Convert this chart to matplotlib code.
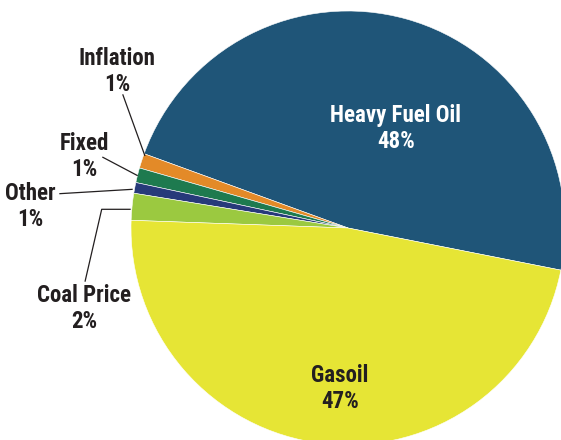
import matplotlib
matplotlib.use("Agg")
import matplotlib.pyplot as plt
from matplotlib import font_manager

# Data
categories = ["Heavy Fuel Oil", "Inflation", "Fixed", "Other", "Coal Price", "Gasoil"]
values = [47.6, 1.1, 1.1, 0.8, 2.0, 47.5]
pct_labels = ["48%", "1%", "1%", "1%", "2%", "47%"]

colors = ["#1f5578", "#e38a28", "#1e7a4f", "#273a7a", "#9bc940", "#e6e535"]

W, H = 561, 440
fig = plt.figure(figsize=(W / 100, H / 100), dpi=100)
ax = fig.add_axes([0, 0, 1, 1])

cx, cy, r = 348, H - 228, 217
ax.pie(values, colors=colors, startangle=-11.2, counterclock=True,
       center=(cx, cy), radius=r, frame=True,
       wedgeprops=dict(edgecolor="white", linewidth=0.4))
ax.set_xlim(0, W)
ax.set_ylim(0, H)
ax.set_aspect("equal")
ax.axis("off")

available = {f.name for f in font_manager.fontManager.ttflist}
pref = ["Roboto Condensed", "Liberation Sans Narrow", "Roboto", "DejaVu Sans"]
font = [f for f in pref if f in available] or ["DejaVu Sans"]
txt_color = "#231f20"
fs = 16.5
# label positions (x, y of first line centre, in px from top-left)
label_pos = {
    "Heavy Fuel Oil": (396, 115, "white"),
    "Gasoil": (340, 375, txt_color),
    "Inflation": (117, 58, txt_color),
    "Fixed": (84, 143, txt_color),
    "Other": (30, 193, txt_color),
    "Coal Price": (84, 295, txt_color),
}
for cat, pct in zip(categories, pct_labels):
    x, y, c = label_pos[cat]
    ax.text(x, H - y, cat, ha="center", va="center", fontsize=fs,
            fontweight="bold", family=font, color=c)
    ax.text(x, H - y - 26, pct, ha="center", va="center", fontsize=fs,
            fontweight="bold", family=font, color=c)

# leader lines
leaders = [
    [(122.7, 94.3), (145, 156)],
    [(102.3, 157), (137.7, 175.7)],
    [(59.3, 193.7), (132.7, 189.3)],
    [(85, 281.7), (101.7, 209.3), (130.7, 209.3)],
]
for pts in leaders:
    xs = [p[0] for p in pts]
    ys = [H - p[1] for p in pts]
    ax.plot(xs, ys, color=txt_color, linewidth=0.9, solid_capstyle="butt")

fig.savefig("out.png", dpi=100)
